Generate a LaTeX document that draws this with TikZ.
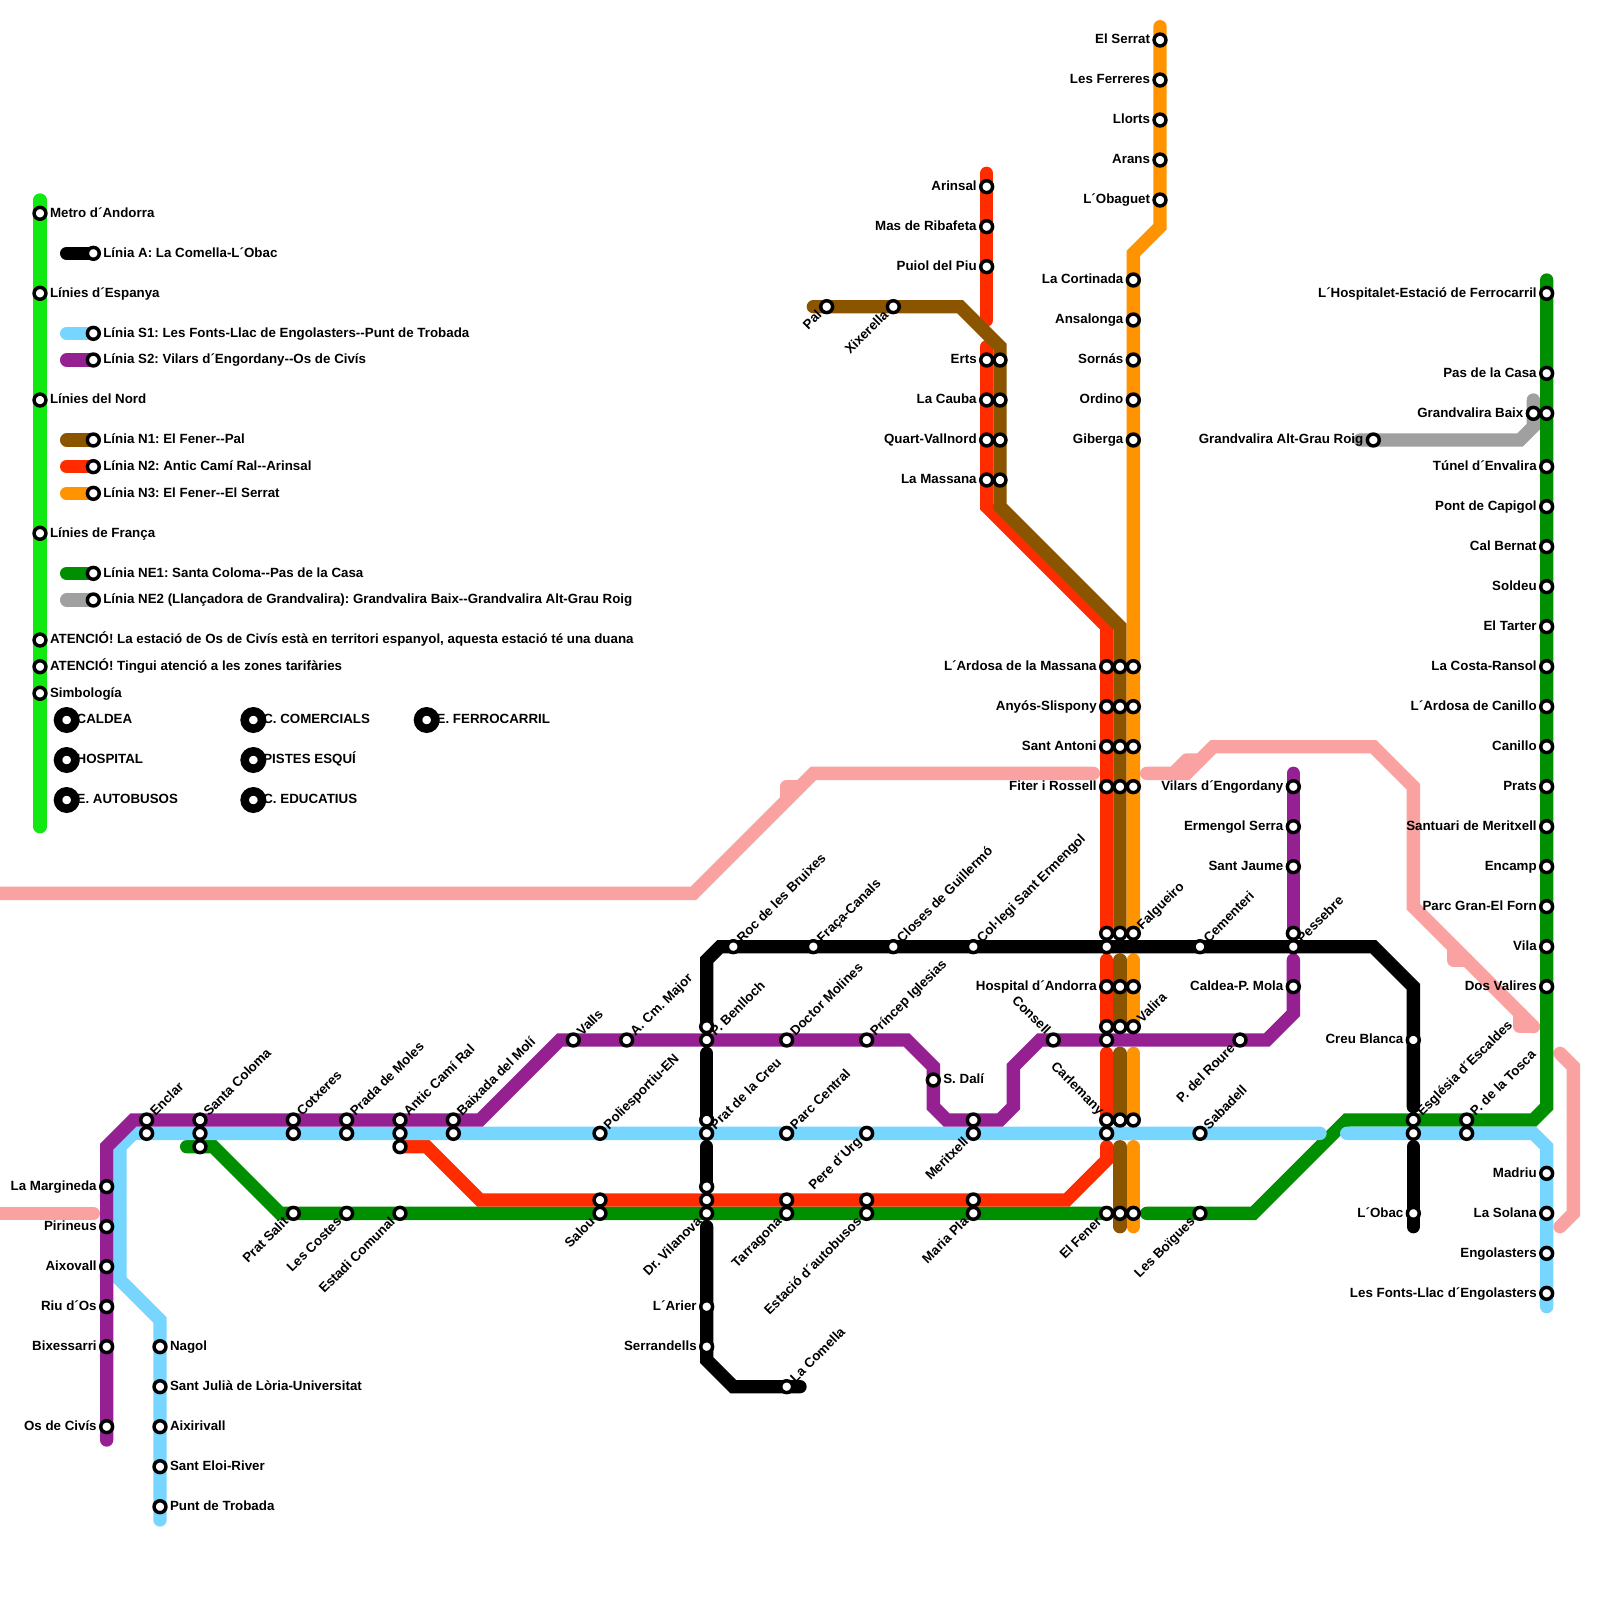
\documentclass[tikz,border=0pt]{standalone}
\usepackage{fontspec}
\setmainfont{Liberation Sans}[Ligatures=NoCommon]
\frenchspacing
\pgfdeclarelayer{bg}
\pgfsetlayers{bg,main}
\definecolor{cLime}{HTML}{12E812}
\definecolor{cGreen}{HTML}{008F00}
\definecolor{cRed}{HTML}{FF2C00}
\definecolor{cOrange}{HTML}{FF9300}
\definecolor{cBrown}{HTML}{8B5500}
\definecolor{cSky}{HTML}{76D6FF}
\definecolor{cPlum}{HTML}{942092}
\definecolor{cGrey}{HTML}{A0A0A0}
\definecolor{cPink}{HTML}{FAA2A2}
\tikzset{
  track/.style={line width=10pt,line cap=round,line join=miter,miter limit=4},
  stub/.style={line width=10pt,line cap=round,line join=round,cPink},
  stn/.style={circle,draw=black,fill=white,line width=2.6pt,inner sep=0pt,outer sep=0pt,minimum size=8.9pt},
  bigstn/.style={circle,draw=black,fill=white,line width=6.4pt,inner sep=0pt,outer sep=0pt,minimum size=13pt},
  lab/.style={font=\bfseries\fontsize{10pt}{12pt}\selectfont,inner sep=0pt,outer sep=0pt,text=black},
  labE/.style={lab,anchor=base west,xshift=7.5pt,yshift=-2.8pt},
  labW/.style={lab,anchor=base east,xshift=-7.5pt,yshift=-2.8pt},
  labNE/.style={lab,anchor=base west,xshift=6.75pt,yshift=2.5pt,rotate=45},
  labSW/.style={lab,anchor=base east,xshift=-3.2pt,yshift=-7pt,rotate=45},
  labNW/.style={lab,anchor=base east,xshift=-6pt,yshift=3.5pt,rotate=-45},
}
\newcommand\sN[2]{\node[stn] (#1) at (#2) {};}
\newcommand\sE[3]{\node[stn] (#1) at (#2) {};\node[labE] (#1t) at (#2) {#3};}
\newcommand\sW[3]{\node[stn] (#1) at (#2) {};\node[labW] (#1t) at (#2) {#3};}
\newcommand\sNE[3]{\node[stn] (#1) at (#2) {};\node[labNE] (#1t) at (#2) {#3};}
\newcommand\sSW[3]{\node[stn] (#1) at (#2) {};\node[labSW] (#1t) at (#2) {#3};}
\newcommand\sNW[3]{\node[stn] (#1) at (#2) {};\node[labNW] (#1t) at (#2) {#3};}
\newcommand\sBig[3]{\node[bigstn] (#1) at (#2) {};\node[labE] (#1t) at (#2) {#3};}
\newcommand\cc[2]{\coordinate (#1) at (#2);}
\begin{document}
\begin{tikzpicture}[x=10pt,y=-10pt]
\useasboundingbox (0,0) rectangle (120,120);
% ---- legend
\sE{mA}{3,16}{Metro d´Andorra}
\sE{mE}{3,22}{Línies d´Espanya}
\sE{mN}{3,30}{Línies del Nord}
\sE{mF}{3,40}{Línies de França}
\sE{mAt}{3,48}{ATENCIÓ! La estació de Os de Civís està en territori espanyol, aquesta estació té una duana}
\sE{mTa}{3,50}{ATENCIÓ! Tingui atenció a les zones tarifàries}
\sE{mSi}{3,52}{Simbología}
\sE{lgA}{7,19}{Línia A: La Comella-L´Obac}
\sE{lgSa}{7,25}{Línia S1: Les Fonts-Llac de Engolasters-{}-Punt de Trobada}
\sE{lgSb}{7,27}{Línia S2: Vilars d´Engordany-{}-Os de Civís}
\sE{lgNa}{7,33}{Línia N1: El Fener-{}-Pal}
\sE{lgNb}{7,35}{Línia N2: Antic Camí Ral-{}-Arinsal}
\sE{lgNc}{7,37}{Línia N3: El Fener-{}-El Serrat}
\sE{lgEa}{7,43}{Línia NE1: Santa Coloma-{}-Pas de la Casa}
\sE{lgEb}{7,45}{Línia NE2 (Llançadora de Grandvalira): Grandvalira Baix-{}-Grandvalira Alt-Grau Roig}
\sBig{bCa}{5,54}{CALDEA}
\sBig{bHo}{5,57}{HOSPITAL}
\sBig{bAu}{5,60}{E. AUTOBUSOS}
\sBig{bCo}{19,54}{C. COMERCIALS}
\sBig{bPi}{19,57}{PISTES ESQUÍ}
\sBig{bEd}{19,60}{C. EDUCATIUS}
\sBig{bFe}{32,54}{E. FERROCARRIL}
% ---- N3
\sW{seA}{87,3}{El Serrat}
\sW{seB}{87,6}{Les Ferreres}
\sW{seC}{87,9}{Llorts}
\sW{seD}{87,12}{Arans}
\sW{seE}{87,15}{L´Obaguet}
\sW{coA}{85,21}{La Cortinada}
\sW{coB}{85,24}{Ansalonga}
\sW{coC}{85,27}{Sornás}
\sW{coD}{85,30}{Ordino}
\sW{coE}{85,33}{Giberga}
% ---- N2 / N1 north
\sW{arA}{74,14}{Arinsal}
\sW{arB}{74,17}{Mas de Ribafeta}
\sW{arC}{74,20}{Puiol del Piu}
\sW{erA}{74,27}{Erts}
\sW{erB}{74,30}{La Cauba}
\sW{erC}{74,33}{Quart-Vallnord}
\sW{erD}{74,36}{La Massana}
\sN{ebA}{75,27}\sN{ebB}{75,30}\sN{ebC}{75,33}\sN{ebD}{75,36}
\sSW{pal}{62,23}{Pal}
\sSW{xix}{67,23}{Xixerella}
% ---- trunk
\sW{tAa}{83,50}{L´Ardosa de la Massana}\sN{tAb}{84,50}\sN{tAc}{85,50}
\sW{tBa}{83,53}{Anyós-Slispony}\sN{tBb}{84,53}\sN{tBc}{85,53}
\sW{tCa}{83,56}{Sant Antoni}\sN{tCb}{84,56}\sN{tCc}{85,56}
\sW{tDa}{83,59}{Fiter i Rossell}\sN{tDb}{84,59}\sN{tDc}{85,59}
\sN{tEa}{83,70}\sN{tEb}{84,70}\sNE{tEc}{85,70}{Falgueiro}
\sW{tFa}{83,74}{Hospital d´Andorra}\sN{tFb}{84,74}\sN{tFc}{85,74}
\sN{tGa}{83,77}\sN{tGb}{84,77}\sNE{tGc}{85,77}{Valira}
\sNW{tHa}{83,84}{Carlemany}\sN{tHb}{84,84}\sN{tHc}{85,84}
\sSW{tIa}{83,91}{El Fener}\sN{tIb}{84,91}\sN{tIc}{85,91}
% ---- S2
\sW{puA}{8,89}{La Margineda}
\sW{puB}{8,92}{Pirineus}
\sW{puC}{8,95}{Aixovall}
\sW{puD}{8,98}{Riu d´Os}
\sW{puE}{8,101}{Bixessarri}
\sW{puF}{8,107}{Os de Civís}
\sNE{enA}{11,84}{Enclar}\sN{enB}{11,85}
\sNE{scA}{15,84}{Santa Coloma}\sN{scB}{15,85}\sN{scC}{15,86}
\sNE{ctA}{22,84}{Cotxeres}\sN{ctB}{22,85}
\sNE{prA}{26,84}{Prada de Moles}\sN{prB}{26,85}
\sNE{acA}{30,84}{Antic Camí Ral}\sN{acB}{30,85}\sN{acC}{30,86}
\sNE{baA}{34,84}{Baixada del Molí}\sN{baB}{34,85}
\sNE{val}{43,78}{Valls}
\sNE{acm}{47,78}{A. Cm. Major}
\sN{beA}{53,77}\sNE{beB}{53,78}{P. Benlloch}
\sNE{dmo}{59,78}{Doctor Molines}
\sNE{pri}{65,78}{Príncep Iglesias}
\sE{dal}{70,81}{S. Dalí}
\sN{meA}{73,84}\sSW{meB}{73,85}{Meritxell}
\sNW{con}{79,78}{Consell}
\sN{puX}{83,78}
\sSW{rou}{93,78}{P. del Roure}
\sW{viA}{97,59}{Vilars d´Engordany}
\sW{viB}{97,62}{Ermengol Serra}
\sW{viC}{97,65}{Sant Jaume}
\sN{pes}{97,70}
\sW{cal}{97,74}{Caldea-P. Mola}
% ---- S1
\sE{nag}{12,101}{Nagol}
\sE{sju}{12,104}{Sant Julià de Lòria-Universitat}
\sE{aix}{12,107}{Aixirivall}
\sE{sel}{12,110}{Sant Eloi-River}
\sE{pun}{12,113}{Punt de Trobada}
\sNE{pol}{45,85}{Poliesportiu-EN}
\sN{crA}{53,84}\sNE{crB}{53,85}{Prat de la Creu}
\sNE{pce}{59,85}{Parc Central}
\sSW{pur}{65,85}{Pere d´Urg}
\sN{blX}{83,85}
\sNE{sab}{90,85}{Sabadell}
\sNE{esA}{106,84}{Església d´Escaldes}\sN{esB}{106,85}
\sNE{toA}{110,84}{P. de la Tosca}\sN{toB}{110,85}
\sW{fnA}{116,88}{Madriu}
\sW{fnB}{116,91}{La Solana}
\sW{fnC}{116,94}{Engolasters}
\sW{fnD}{116,97}{Les Fonts-Llac d´Engolasters}
% ---- red + green rows
\sSW{psa}{22,91}{Prat Salit}
\sSW{lco}{26,91}{Les Costes}
\sSW{eco}{30,91}{Estadi Comunal}
\sN{saA}{45,90}\sSW{saB}{45,91}{Salou}
\sN{viX}{53,89}\sN{viY}{53,90}\sSW{viZ}{53,91}{Dr. Vilanova}
\sN{taA}{59,90}\sSW{taB}{59,91}{Tarragona}
\sN{auA}{65,90}\sSW{auB}{65,91}{Estació d´autobusos}
\sN{mpA}{73,90}\sSW{mpB}{73,91}{Maria Pla}
\sSW{boi}{90,91}{Les Boïgues}
% ---- black
\sNE{roc}{55,71}{Roc de les Bruixes}
\sNE{fra}{61,71}{Fraça-Canals}
\sNE{clo}{67,71}{Closes de Guillermó}
\sNE{col}{73,71}{Col·legi Sant Ermengol}
\sN{blY}{83,71}
\sNE{cem}{90,71}{Cementeri}
\sNE{blZ}{97,71}{Pessebre}
\sW{cre}{106,78}{Creu Blanca}
\sW{oba}{106,91}{L´Obac}
\sW{ari}{53,98}{L´Arier}
\sW{ser}{53,101}{Serrandells}
\sNE{com}{59,104}{La Comella}
% ---- NE1
\sW{hos}{116,22}{L´Hospitalet-Estació de Ferrocarril}
\sW{gaA}{116,28}{Pas de la Casa}
\sN{gaB}{116,31}
\sW{gaC}{115,31}{Grandvalira Baix}
\sW{gaD}{116,35}{Túnel d´Envalira}
\sW{gaE}{116,38}{Pont de Capigol}
\sW{gaF}{116,41}{Cal Bernat}
\sW{gaG}{116,44}{Soldeu}
\sW{gaH}{116,47}{El Tarter}
\sW{gaI}{116,50}{La Costa-Ransol}
\sW{gaJ}{116,53}{L´Ardosa de Canillo}
\sW{gaK}{116,56}{Canillo}
\sW{gaL}{116,59}{Prats}
\sW{gaM}{116,62}{Santuari de Meritxell}
\sW{gaN}{116,65}{Encamp}
\sW{gaO}{116,68}{Parc Gran-El Forn}
\sW{gaP}{116,71}{Vila}
\sW{gaQ}{116,74}{Dos Valires}
\sW{gnd}{103,33}{Grandvalira Alt-Grau Roig}
% ---- bends and free ends
\cc{lim1}{3,15}\cc{lim2}{3,62}
\cc{lgA0}{5,19}\cc{lgSa0}{5,25}\cc{lgSb0}{5,27}\cc{lgNa0}{5,33}\cc{lgNb0}{5,35}\cc{lgNc0}{5,37}\cc{lgEa0}{5,43}\cc{lgEb0}{5,45}
\cc{pk1}{0,67}\cc{pk2}{52,67}\cc{pk3}{61,58}\cc{pk4}{82,58}\cc{pk5}{59,60}\cc{pk6}{59,59}\cc{pk7}{60,59}
\cc{pk8}{86,58}\cc{pk9}{89,58}\cc{pk10}{91,56}\cc{pk11}{103,56}\cc{pk12}{106,59}\cc{pk13}{106,68}\cc{pk14}{115,77}
\cc{pk15}{88,58}\cc{pk16}{89,57}\cc{pk17}{90,57}
\cc{pk18}{109,71}\cc{pk19}{109,72}\cc{pk20}{110,72}\cc{pk21}{114,76}\cc{pk22}{114,77}
\cc{pk23}{117,79}\cc{pk24}{118,80}\cc{pk25}{118,91}\cc{pk26}{117,92}\cc{pk27}{0,91}\cc{pk28}{7,91}
\cc{gy1}{115,30}\cc{gy2}{115,32}\cc{gy3}{114,33}\cc{gy4}{102,33}
\cc{gr1}{14,86}\cc{gr2}{16,86}\cc{gr3}{21,91}\cc{gr4}{86,91}\cc{gr5}{94,91}\cc{gr6}{101,84}\cc{gr7}{115,84}\cc{gr8}{116,83}\cc{gr9}{116,21}
\cc{rd1}{32,86}\cc{rd2}{36,90}\cc{rd3}{80,90}\cc{rd4}{83,87}\cc{rd5}{83,86}\cc{rd6}{83,79}\cc{rd7}{83,72}\cc{rd8}{74,38}\cc{rd9}{83,47}\cc{rd10}{74,26}\cc{rd11}{74,13}\cc{rd12}{74,24}
\cc{br1}{61,23}\cc{br2}{72,23}\cc{br3}{75,26}\cc{br4}{75,38}\cc{br5}{84,47}\cc{br6}{84,72}\cc{br7}{84,79}\cc{br8}{84,86}\cc{br9}{84,92}
\cc{or1}{87,2}\cc{or2}{87,17}\cc{or3}{85,19}\cc{or4}{85,72}\cc{or5}{85,79}\cc{or6}{85,86}\cc{or7}{85,92}
\cc{sk1}{116,98}\cc{sk2}{116,86}\cc{sk3}{115,85}\cc{sk4}{101,85}\cc{sk5}{99,85}\cc{sk6}{10,85}\cc{sk7}{9,86}\cc{sk8}{9,96}\cc{sk9}{12,99}\cc{sk10}{12,114}
\cc{pu1}{8,108}\cc{pu2}{8,86}\cc{pu3}{10,84}\cc{pu4}{36,84}\cc{pu5}{42,78}\cc{pu6}{68,78}\cc{pu7}{70,80}\cc{pu8}{70,83}\cc{pu9}{71,84}\cc{pu10}{75,84}\cc{pu11}{76,83}\cc{pu12}{76,80}\cc{pu13}{78,78}\cc{pu14}{95,78}\cc{pu15}{97,76}\cc{pu16}{97,72}\cc{pu17}{97,58}
\cc{bk1}{60,104}\cc{bk2}{55,104}\cc{bk3}{53,102}\cc{bk4}{53,92}\cc{bk5}{53,86}\cc{bk6}{53,79}\cc{bk7}{53,72}\cc{bk8}{54,71}\cc{bk9}{103,71}\cc{bk10}{106,74}\cc{bk11}{106,83}\cc{bk12}{106,86}\cc{bk13}{106,92}
% ---- tracks, behind the stations
\begin{pgfonlayer}{bg}
\draw[track,cLime] (lim1)--(lim2);
\draw[track,black] (lgA0)--(lgA.center);
\draw[track,cSky] (lgSa0)--(lgSa.center);
\draw[track,cPlum] (lgSb0)--(lgSb.center);
\draw[track,cBrown] (lgNa0)--(lgNa.center);
\draw[track,cRed] (lgNb0)--(lgNb.center);
\draw[track,cOrange] (lgNc0)--(lgNc.center);
\draw[track,cGreen] (lgEa0)--(lgEa.center);
\draw[track,cGrey] (lgEb0)--(lgEb.center);
% pink
\draw[track,cPink] (pk1)--(pk2)--(pk3)--(pk4);
\draw[stub] (pk5)--(pk6)--(pk7);
\draw[track,cPink] (pk8)--(pk9)--(pk10)--(pk11)--(pk12)--(pk13)--(pk14);
\draw[stub] (pk15)--(pk16)--(pk17);
\draw[stub] (pk18)--(pk19)--(pk20);
\draw[stub] (pk21)--(pk22)--(pk14);
\draw[track,cPink] (pk23)--(pk24)--(pk25)--(pk26);
\draw[track,cPink] (pk27)--(pk28);
% NE2, NE1
\draw[track,cGrey] (gy1)--(gy2)--(gy3)--(gy4);
\draw[track,cGreen] (gr1)--(gr2)--(gr3)--(tIa.center);
\draw[track,cGreen] (gr4)--(gr5)--(gr6)--(gr7)--(gr8)--(gr9);
% N2
\draw[track,cRed] (acC.center)--(rd1)--(rd2)--(rd3)--(rd4)--(rd5);
\draw[track,cRed] (rd6)--(tHa.center);
\draw[track,cRed] (rd7)--(tGa.center);
\draw[track,cRed] (tEa.center)--(rd9)--(rd8)--(rd10);
\draw[track,cRed] (rd11)--(rd12);
% N1
\draw[track,cBrown] (br1)--(br2)--(br3)--(br4)--(br5)--(tEb.center);
\draw[track,cBrown] (br6)--(tGb.center);
\draw[track,cBrown] (br7)--(tHb.center);
\draw[track,cBrown] (br8)--(br9);
% N3
\draw[track,cOrange] (or1)--(or2)--(or3)--(tEc.center);
\draw[track,cOrange] (or4)--(tGc.center);
\draw[track,cOrange] (or5)--(tHc.center);
\draw[track,cOrange] (or6)--(or7);
% S1
\draw[track,cSky] (sk1)--(sk2)--(sk3)--(sk4);
\draw[track,cSky] (sk5)--(sk6)--(sk7)--(sk8)--(sk9)--(sk10);
% S2
\draw[track,cPlum] (pu1)--(pu2)--(pu3)--(pu4)--(pu5)--(pu6)--(pu7)--(pu8)--(pu9)--(pu10)--(pu11)--(pu12)--(pu13)--(pu14)--(pu15)--(pu16);
\draw[track,cPlum] (pu17)--(pes.center);
% A
\draw[track,black] (bk1)--(bk2)--(bk3)--(bk4);
\draw[track,black] (bk5)--(viX.center);
\draw[track,black] (bk6)--(crA.center);
\draw[track,black] (beA.center)--(bk7)--(bk8)--(bk9)--(bk10)--(bk11);
\draw[track,black] (bk12)--(bk13);
\end{pgfonlayer}
\end{tikzpicture}
\end{document}
